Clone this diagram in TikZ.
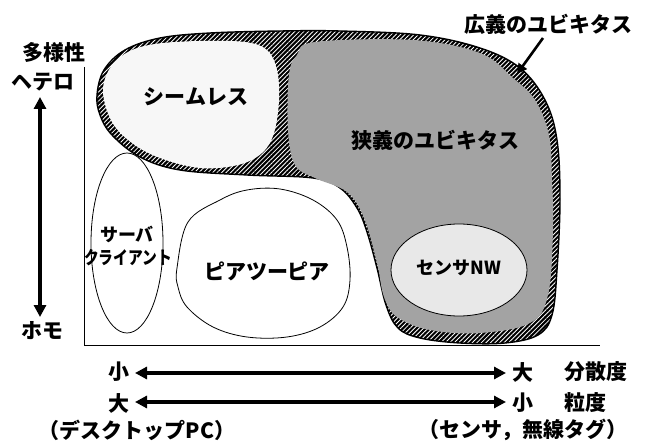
\documentclass[tikz,border=0pt]{standalone}
\usepackage{fontspec}
\usepackage{graphicx}
\setmainfont{Noto Sans CJK JP}
\usetikzlibrary{arrows.meta,patterns.meta}
\begin{document}
\begin{tikzpicture}[x=1pt,y=-1pt,
  lbl/.style={font=\fontsize{21}{25}\selectfont\bfseries, inner sep=0pt},
  slbl/.style={font=\fontsize{18}{22}\selectfont\bfseries, inner sep=0pt},
  dblarrow/.style={line width=3.6pt, {Triangle[length=12pt,width=12pt]}-{Triangle[length=12pt,width=12pt]}},
  blob/.style={draw=black, line width=0.8pt, fill=white}]
\useasboundingbox[fill=white] (0,0) rectangle (649,444);

% broad ubiquitous (hatched band)
\def\outerpath{plot[smooth cycle, tension=0.6] coordinates {(97,95) (104,70) (125,50) (160,38) (210,33) (280,31) (340,31) (420,35) (480,48) (520,68) (545,100) (557,140) (560,200) (557,270) (552,315) (538,335) (505,343) (460,343) (420,338) (398,328) (386,305) (377,268) (367,232) (357,208) (340,188) (313,178) (247,175) (180,170) (140,157) (112,135) (100,115)}}
\def\narrowpath{plot[smooth cycle, tension=0.6] coordinates {(289,75) (297,55) (315,42) (413,40) (480,53) (513,78) (535,100) (549,135) (552,180) (553,230) (548,295) (530,323) (480,333) (430,330) (397,317) (384,297) (377,263) (364,218) (347,192) (315,178) (295,165) (288,130)}}
\fill[black] \outerpath;
\fill[pattern={Lines[angle=45,distance=3.2pt,line width=0.85pt]}, pattern color=white] \outerpath;
\draw[black, line width=1.4pt] \outerpath;

% seamless
\fill[gray!6] plot[smooth cycle, tension=0.6] coordinates {(103,92) (110,68) (128,52) (155,44) (200,41) (245,42) (267,50) (277,70) (279,100) (274,133) (262,153) (238,165) (200,168) (160,158) (132,143) (112,122)};

% narrow ubiquitous
\fill[black!36] \narrowpath;

% sensor NW
\draw[black, line width=0.8pt, fill=gray!18] (459,270) ellipse [x radius=68, y radius=46];

% server client
\draw[blob] (127,243) ellipse [x radius=36, y radius=90];

% peer to peer
\draw[blob] plot[smooth cycle, tension=0.6] coordinates {(177,268) (188,222) (220,200) (247,190) (280,189) (313,200) (337,220) (347,247) (350,280) (343,307) (320,327) (287,337) (247,337) (213,327) (187,307) (178,287)};

% axes
\coordinate (axtop) at (84,67);
\coordinate (axorig) at (84,345);
\coordinate (axright) at (600,345);
\draw[black, line width=0.9pt] (axtop) -- (axorig) -- (axright);

% labels
\node[lbl] (tayo) at (54,52) {多様性};
\node[lbl] (hetero) at (43,82) {ヘテロ};
\node[lbl] (homo) at (42,331) {ホモ};
\coordinate (vtop) at (40,97);
\coordinate (vbot) at (40,317);
\draw[dblarrow] (vtop) -- (vbot);

\node[lbl] (seamless) at (196,97) {シームレス};
\node[lbl] (narrow) at (435,140) {狭義のユビキタス};
\node[lbl] (broad) at (548,24) {広義のユビキタス};
\coordinate (bstart) at (543,38);
\coordinate (btip) at (517,74);
\draw[line width=2.6pt, -{Triangle[length=10pt,width=10pt]}] (bstart) -- (btip);

\node[slbl] (sensor) at (459,268) {センサNW};
\node[slbl] (server) at (127,234) {サーバ};
\node[slbl] (client) at (128,258) {\scalebox{0.82}[1]{クライアント}};
\node[lbl] (p2p) at (267,271) {ピアツーピア};

% bottom scales
\node[lbl] (small1) at (119,372) {小};
\node[lbl] (large1) at (523,372) {大};
\node[lbl] (bunsan) at (596,372) {分散度};
\coordinate (a1l) at (135,373);
\coordinate (a1r) at (506,373);
\draw[dblarrow] (a1l) -- (a1r);

\node[lbl] (large2) at (119,403) {大};
\node[lbl] (small2) at (523,403) {小};
\node[lbl] (ryudo) at (585,403) {粒度};
\coordinate (a2l) at (135,402);
\coordinate (a2r) at (506,402);
\draw[dblarrow] (a2l) -- (a2r);

\node[lbl] (desktop) at (137,430) {（デスクトップPC）};
\node[lbl] (tag) at (523,430) {（センサ，無線タグ）};
\end{tikzpicture}
\end{document}
